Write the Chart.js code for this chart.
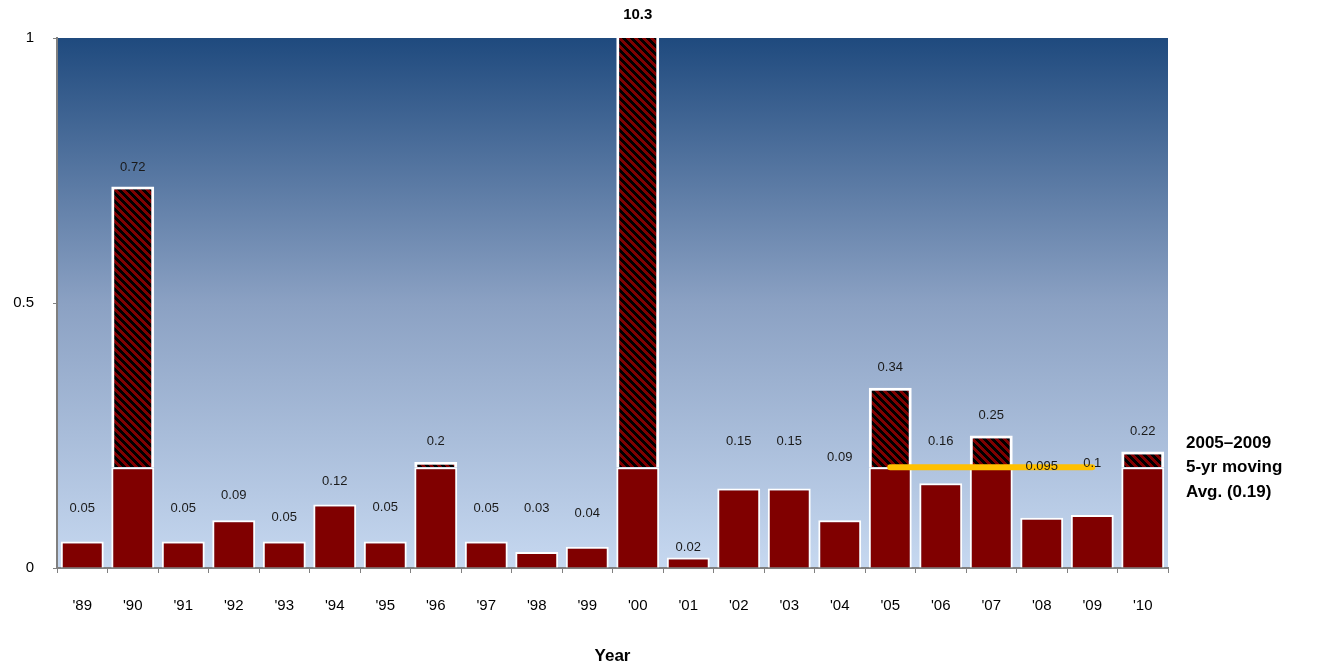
<!DOCTYPE html>
<html>
<head>
<meta charset="utf-8">
<script src="https://cdn.jsdelivr.net/npm/chart.js@4.4.1/dist/chart.umd.min.js"></script>
<style>
  html, body { margin: 0; padding: 0; background: #ffffff; }
  #wrap { width: 1328px; height: 671px; }
</style>
</head>
<body>
<div id="wrap"><canvas id="chart" width="1328" height="671"></canvas></div>
<script>
// Yearly values, 1989–2010
const years = ["'89", "'90", "'91", "'92", "'93", "'94", "'95", "'96", "'97", "'98", "'99",
               "'00", "'01", "'02", "'03", "'04", "'05", "'06", "'07", "'08", "'09", "'10"];
const values = [0.05, 0.72, 0.05, 0.09, 0.05, 0.12, 0.05, 0.2, 0.05, 0.03, 0.04,
                10.3, 0.02, 0.15, 0.15, 0.09, 0.34, 0.16, 0.25, 0.095, 0.1, 0.22];
// 2005–2009 five-year moving average
const movingAvg = 0.19;
const avgYears = ["'05", "'06", "'07", "'08", "'09"];
const yTicks = [0, 0.5, 1];

// Split each bar into the part up to the average and the part above it
const baseValues = values.map(v => Math.min(v, movingAvg));
const excessValues = values.map(v => Math.max(v - movingAvg, 0));
const avgLine = years.map(y => avgYears.includes(y) ? movingAvg : null);

// Diagonal black/dark-red hatch for the above-average part
function makeHatch() {
  const size = 8;
  const c = document.createElement('canvas');
  c.width = size; c.height = size;
  const ctx = c.getContext('2d');
  const img = ctx.createImageData(size, size);
  for (let y = 0; y < size; y++) {
    for (let x = 0; x < size; x++) {
      const k = ((x - y) % size + size) % size;
      const dark = k < 4;
      const i = (y * size + x) * 4;
      img.data[i] = dark ? 0 : 128;
      img.data[i + 1] = 0;
      img.data[i + 2] = 0;
      img.data[i + 3] = 255;
    }
  }
  ctx.putImageData(img, 0, 0);
  return ctx.createPattern(c, 'repeat');
}

const FONT = "'Liberation Sans', Arial, Helvetica, sans-serif";

// Blue gradient behind the plot area
const plotBackground = {
  id: 'plotBackground',
  beforeDraw(chart) {
    const { ctx, chartArea: a } = chart;
    const g = ctx.createLinearGradient(0, a.top, 0, a.bottom);
    g.addColorStop(0, '#1f4a7e');
    g.addColorStop(0.5, '#8ba1c3');
    g.addColorStop(1, '#c6d8f0');
    ctx.save();
    ctx.fillStyle = g;
    ctx.fillRect(a.left, a.top, a.right - a.left, a.bottom - a.top);
    ctx.restore();
  }
};

// Value labels above each bar, plus the moving-average note on the right
const valueLabels = {
  id: 'valueLabels',
  afterDatasetsDraw(chart, args, opts) {
    const { ctx, chartArea: a } = chart;
    const x = chart.scales.x, y = chart.scales.y;
    ctx.save();
    ctx.textAlign = 'center';
    ctx.textBaseline = 'middle';
    values.forEach((v, i) => {
      const cx = x.getPixelForValue(i);
      if (v > y.max) {
        ctx.font = 'bold 15px ' + FONT;
        ctx.fillStyle = '#000';
        ctx.fillText(String(v), cx, a.top - 23);
      } else {
        ctx.font = '13px ' + FONT;
        ctx.fillStyle = '#1a1a1a';
        ctx.fillText(String(v), cx, y.getPixelForValue(v) - opts.lift[i]);
      }
    });
    ctx.font = 'bold 17px ' + FONT;
    ctx.fillStyle = '#000';
    ctx.textAlign = 'left';
    const lines = ['2005–2009', '5-yr moving', 'Avg. (0.19)'];
    lines.forEach((t, k) => ctx.fillText(t, a.right + 18, 443 + k * 24.5));
    ctx.restore();
  }
};

new Chart(document.getElementById('chart'), {
  data: {
    labels: years,
    datasets: [
      {
        type: 'line',
        data: avgLine,
        stack: 'avg',
        borderColor: '#ffc000',
        borderWidth: 6,
        borderCapStyle: 'round',
        pointRadius: 0,
        fill: false,
        order: 0
      },
      {
        type: 'bar',
        data: baseValues,
        stack: 'bars',
        backgroundColor: '#800000',
        borderColor: '#ffffff',
        borderWidth: { top: 2, left: 2, right: 2, bottom: 0 },
        borderSkipped: false,
        barPercentage: 0.85,
        categoryPercentage: 1,
        order: 1
      },
      {
        type: 'bar',
        data: excessValues,
        stack: 'bars',
        backgroundColor: makeHatch(),
        borderColor: '#ffffff',
        borderWidth: { top: 3, left: 3, right: 3, bottom: 0 },
        borderSkipped: false,
        barPercentage: 0.85,
        categoryPercentage: 1,
        order: 2
      }
    ]
  },
  options: {
    responsive: false,
    animation: false,
    layout: { padding: { top: 38, right: 160, left: 0, bottom: 0 } },
    plugins: {
      legend: { display: false },
      tooltip: { enabled: false },
      valueLabels: {
        lift: [33, 19, 33, 25, 24, 23, 34, 21, 33, 44, 33,
               0, 10, 47, 47, 63, 20, 42, 20, 51, 52, 20]
      }
    },
    scales: {
      x: {
        stacked: true,
        grid: { display: true, drawOnChartArea: false, offset: true, tickLength: 5, color: '#808080', lineWidth: 1 },
        border: { display: true, color: '#808080', width: 2 },
        ticks: { color: '#000', font: { family: FONT, size: 15 }, padding: 24, maxRotation: 0 },
        title: { display: true, text: 'Year', color: '#000', font: { family: FONT, size: 17, weight: 'bold' }, padding: { top: 0, bottom: 4 } },
        afterFit(s) { s.height = 103; }
      },
      y: {
        stacked: true,
        min: 0,
        max: 1,
        afterBuildTicks(s) { s.ticks = yTicks.map(v => ({ value: v })); },
        grid: { display: true, drawOnChartArea: false, tickLength: 4, color: '#808080', lineWidth: 1 },
        border: { display: true, color: '#808080', width: 2 },
        ticks: { color: '#000', font: { family: FONT, size: 15 }, padding: 19, callback: v => String(v) },
        afterFit(s) { s.width = 57; }
      }
    }
  },
  plugins: [plotBackground, valueLabels]
});
</script>
</body>
</html>
